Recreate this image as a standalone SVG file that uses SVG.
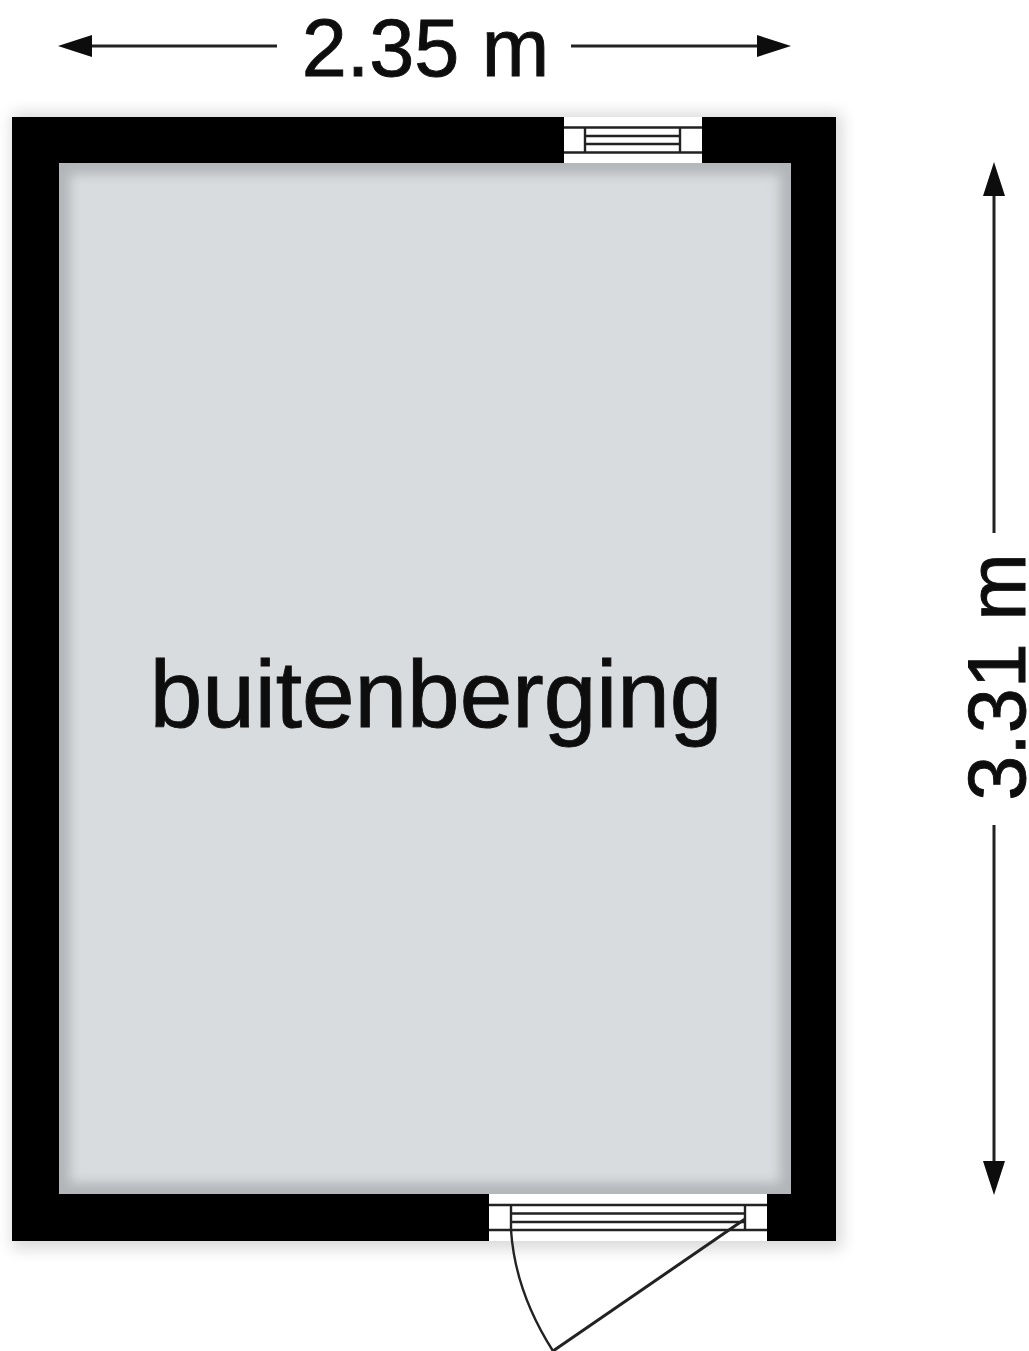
<svg xmlns="http://www.w3.org/2000/svg" width="1029" height="1351" viewBox="0 0 1029 1351">
<style>
.dim{stroke:#222;stroke-width:3;fill:none}
.thin{stroke:#222;stroke-width:2.400;fill:none}
.lbl{font-family:"Liberation Sans",Arial,sans-serif;fill:#0a0a0a;stroke:#0a0a0a;stroke-width:0.900}
.ah{fill:#0a0a0a}
.open{fill:#fff}
</style>
<defs>
<filter id="b8" x="-10%" y="-10%" width="120%" height="120%"><feGaussianBlur stdDeviation="8"/></filter>
<filter id="b5" x="-10%" y="-10%" width="120%" height="120%"><feGaussianBlur stdDeviation="6"/></filter>
<filter id="soft" x="-5%" y="-5%" width="110%" height="110%"><feGaussianBlur stdDeviation="0.7"/></filter>
<filter id="softText" x="-5%" y="-5%" width="110%" height="110%"><feGaussianBlur stdDeviation="0.5"/></filter>
<clipPath id="floorClip"><rect x="59" y="163" width="732" height="1031"/></clipPath>
</defs>
<rect width="1029" height="1351" fill="#fff"/>
<g id="shadow"><rect x="12" y="113" width="830" height="1136" fill="#000" opacity="0.15" filter="url(#b8)"/></g>
<g id="room">
<rect x="59" y="163" width="732" height="1031" fill="#d9dcdf"/>
<g clip-path="url(#floorClip)"><rect x="59" y="163" width="732" height="1031" fill="none" stroke="#a2a5a8" stroke-width="22" opacity="0.7" filter="url(#b5)"/></g>
</g>
<g id="walls" filter="url(#soft)">
<path fill="#000" fill-rule="evenodd" d="M12 117H836V1241H12ZM59 163V1194H791V163Z"/>
</g>
<g id="window" filter="url(#soft)">
<rect class="open" x="564" y="117" width="138" height="46"/>
<path class="thin" d="M564 127.500H702M564 152.500H702M585 127.500V152.500M680 127.500V152.500M585 136H680M585 144H680"/>
</g>
<g id="door" filter="url(#soft)">
<rect class="open" x="489" y="1194" width="278" height="47"/>
<path class="thin" d="M489 1205H767M489 1230H767M511 1205V1230M745 1205V1230M511 1213.500H745M511 1222H745"/>
</g>
<g id="connectors" filter="url(#soft)">
<path class="thin" d="M511 1230C514 1275 530 1315 553 1351"/>
<path class="dim" d="M745 1219L553 1351"/>
<path class="dim" d="M88 46H277M571 46H765M994 192V533M994 825V1165"/>
<path class="ah" d="M58 46L92 35V57ZM791 46L757 35V57ZM994 162L983 196H1005ZM994 1195L983 1161H1005Z"/>
</g>
<g id="labels" filter="url(#softText)">
<text class="lbl" x="425.500" y="76" font-size="81" text-anchor="middle">2.35 m</text>
<text class="lbl" x="436" y="727" font-size="94.500" text-anchor="middle">buitenberging</text>
<text class="lbl" font-size="81" text-anchor="middle" transform="translate(1025 677) rotate(-90)">3.31 m</text>
</g>
</svg>
